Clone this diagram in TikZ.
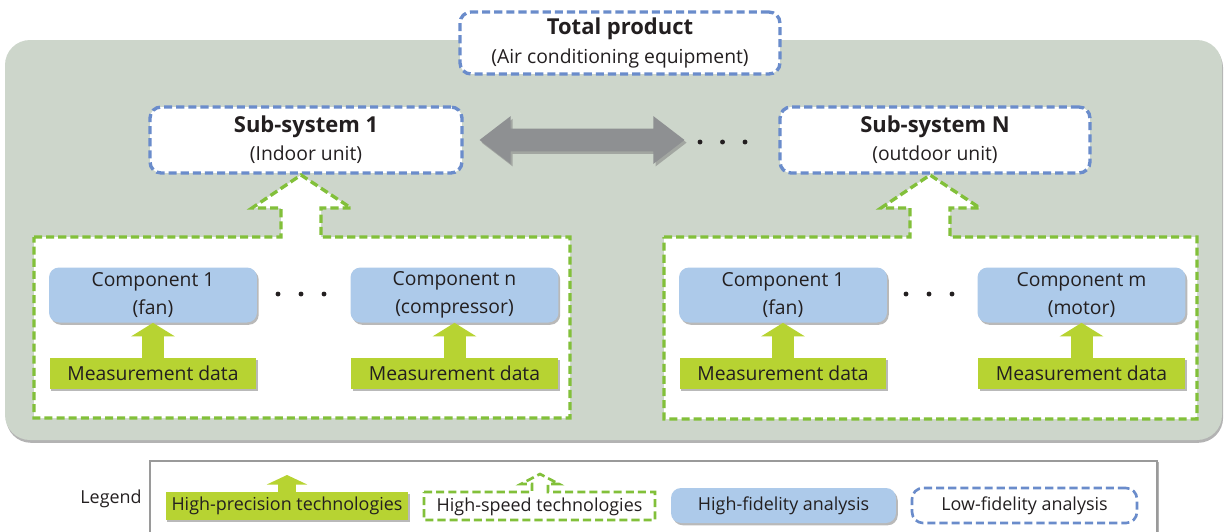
\documentclass[tikz,border=0pt]{standalone}
\usepackage{fontspec}
\setmainfont{Open Sans}
\usetikzlibrary{positioning,arrows.meta,shapes.arrows,shadows}

\definecolor{bggray}{HTML}{CDD6CB}
\definecolor{dashblue}{HTML}{6A8CCB}
\definecolor{dashgreen}{HTML}{82C03A}
\definecolor{compblue}{HTML}{ADCAEA}
\definecolor{measgreen}{HTML}{B7D332}
\definecolor{arrgray}{HTML}{8E9092}
\definecolor{txt}{HTML}{231F20}
\definecolor{framegray}{HTML}{9A9A9A}

\begin{document}
\begin{tikzpicture}[x=0.02cm, y=-0.02cm,
  every node/.style={font=\fontsize{11}{16}\selectfont, text=txt, align=center},
  lofi/.style={draw=dashblue, line width=1.9pt, dash pattern=on 4.6pt off 2.3pt,
    fill=white, rounded corners=0.22cm, inner sep=0pt},
  hispeed/.style={draw=dashgreen, line width=1.9pt, dash pattern=on 4.6pt off 2.3pt,
    fill=white},
  soft/.style={drop shadow={shadow xshift=1pt, shadow yshift=-1.3pt, opacity=0.55}},
  hifi/.style={fill=compblue, rounded corners=0.2cm, soft, inner sep=0pt,
    minimum width=4.16cm, minimum height=1.1cm},
  meas/.style={fill=measgreen, soft, inner sep=0pt,
    minimum width=4.14cm, minimum height=0.62cm},
  feed/.style={draw=measgreen, line width=0.44cm,
    -{Triangle[width=0.86cm, length=0.27cm]}},
  legtext/.style={font=\fontsize{10.2}{12}\selectfont}]
  \path[use as bounding box, clip] (0,0) rectangle (1226,531);

  % grey frame of the product
  \path[fill=bggray, rounded corners=0.5cm,
    drop shadow={shadow xshift=0.6pt, shadow yshift=-1.6pt, opacity=0.6}]
    (5,40) rectangle (1222,440);

  % total product and sub-systems
  \node[lofi, minimum width=6.4cm, minimum height=1.24cm] (total) at (620,43)
    {{\fontsize{12.5}{15}\selectfont\bfseries Total product}\\(Air conditioning equipment)};
  \node[lofi, minimum width=6.24cm, minimum height=1.32cm] (sub1) at (306,140)
    {{\fontsize{12.5}{15}\selectfont\bfseries Sub-system 1}\\(Indoor unit)};
  \node[lofi, minimum width=6.2cm, minimum height=1.32cm] (subN) at (935,140)
    {{\fontsize{12.5}{15}\selectfont\bfseries Sub-system N}\\(outdoor unit)};

  \node[double arrow, fill=arrgray, inner xsep=0pt, inner ysep=0.22cm,
    minimum height=4.1cm, minimum width=0.92cm, double arrow tip angle=75,
    drop shadow={shadow xshift=1.2pt, shadow yshift=-1.5pt, opacity=0.55}]
    (link) at (582,140) {};
  \foreach \x in {700,722.5,745} \fill[txt] (\x,142) circle (1.4pt);

  % sub-system 1 group, hollow arrow joined to its frame
  \draw[hispeed] (34,237) -- (281,237) -- (281,208) -- (252,208) -- (301,175)
    -- (351,208) -- (321,208) -- (321,237) -- (570,237) -- (570,418)
    -- (34,418) -- cycle;
  % sub-system N group
  \draw[hispeed] (664,237) -- (910,237) -- (910,208) -- (881,208) -- (930,175)
    -- (980,208) -- (950,208) -- (950,237) -- (1197,237) -- (1197,419)
    -- (664,419) -- cycle;

  \node[hifi] (c1a) at (153,295)   {Component 1\\(fan)};
  \node[hifi] (c1b) at (454.5,295) {Component n\\(compressor)};
  \node[hifi] (c2a) at (783,295)   {Component 1\\(fan)};
  \node[hifi] (c2b) at (1081.5,295) {Component m\\(motor)};
  \foreach \x in {278,301,324,906,929,952} \fill[txt] (\x,294) circle (1.4pt);

  \node[meas] (m1a) at (153,373.5)    {Measurement data};
  \node[meas] (m1b) at (454.5,373.5)  {Measurement data};
  \node[meas] (m2a) at (783,373.5)    {Measurement data};
  \node[meas] (m2b) at (1081.5,373.5) {Measurement data};
  \draw[feed] (m1a.north) -- (c1a.south);
  \draw[feed] (m1b.north) -- (c1b.south);
  \draw[feed] (m2a.north) -- (c2a.south);
  \draw[feed] (m2b.north) -- (c2b.south);

  % legend
  \path[fill=white, draw=framegray, line width=0.8pt,
    drop shadow={shadow xshift=1.4pt, shadow yshift=-0.6pt, opacity=0.6}]
    (150,461) rectangle (1157,560);
  \node[legtext] (leg) at (111,499) {Legend};

  \node[legtext, fill=measgreen, soft, inner sep=0pt, minimum width=4.86cm,
    minimum height=0.56cm] (hp) at (287,506) {High-precision technologies};
  \coordinate (hptip) at (287,475);
  \draw[draw=measgreen, line width=0.36cm,
    -{Triangle[width=0.8cm, length=0.19cm]}] (hp.north) -- (hptip);

  \draw[hispeed, line width=1.5pt] (424,492) -- (532,492) -- (532,484) -- (521,484)
    -- (540,474) -- (559,484) -- (548,484) -- (548,492) -- (655,492)
    -- (655,520) -- (424,520) -- cycle;
  \node[legtext] (hs) at (539.5,506.5) {High-speed technologies};

  \node[legtext, fill=compblue, rounded corners=0.2cm, soft, inner sep=0pt,
    minimum width=4.5cm, minimum height=0.7cm] (hf) at (783.5,505.5)
    {High-fidelity analysis};
  \node[legtext, lofi, line width=1.5pt, minimum width=4.5cm, minimum height=0.7cm]
    (lf) at (1024.5,505.5) {Low-fidelity analysis};
\end{tikzpicture}
\end{document}
